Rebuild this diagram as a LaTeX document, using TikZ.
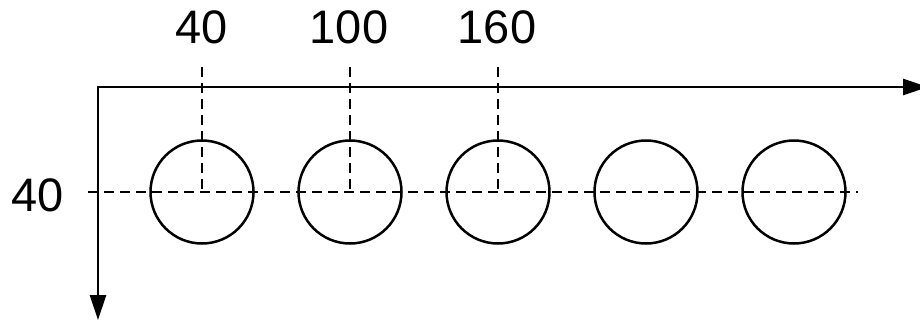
\documentclass[tikz,border=0pt]{standalone}
\usepackage{fontspec}
\setmainfont{Liberation Sans}
\usetikzlibrary{positioning, arrows.meta}
\tikzset{x=1pt, y=-1pt, % one unit per pixel of the reference
node distance=42.5pt, % Gap between two holes
hole/.style={ % Sets the properties for each hole
draw, circle, line width=2.5pt, minimum size=103pt, inner sep=0pt},
axis/.style={ % Axes with filled heads
draw, line width=2.8pt, {Triangle[length=25pt,width=16pt]}-{Triangle[length=25pt,width=16pt]}},
guide/.style={ % Dashed guide lines
draw, line width=2.3pt, dash pattern=on 10pt off 6pt},
dim/.style={ % Dimension labels
font=\fontsize{47}{50}\selectfont, inner sep=0pt}}

\begin{document}
\begin{tikzpicture}
    \useasboundingbox (0,0) rectangle (920,322);
    
    \coordinate (O) at (98,87);
    \coordinate (xend) at (928,87);
    \coordinate (yend) at (98,320);
    
    \node[hole] (h1) at (202,192) {};
    \node[hole, right=of h1] (h2) {};
    \node[hole, right=of h2] (h3) {};
    \node[hole, right=of h3] (h4) {};
    \node[hole, right=of h4] (h5) {};
    
    \coordinate (rowstart) at (88,192);
    \coordinate (rowend) at (858,192);
    \draw[guide] (rowstart) -- (rowend);
    
    \node[dim] (x40) at (202,27) {40};
    \node[dim] (x100) at (349,27) {100};
    \node[dim] (x160) at (497,27) {160};
    \node[dim] (y40) at (38,195) {40};
    
    \draw[guide] (h1.center |- 0,67) -- (h1.center);
    \draw[guide] (h2.center |- 0,67) -- (h2.center);
    \draw[guide] (h3.center |- 0,67) -- (h3.center);
    
    \draw[axis] (yend) -- (O) -- (xend);
    
\end{tikzpicture}
\end{document}
